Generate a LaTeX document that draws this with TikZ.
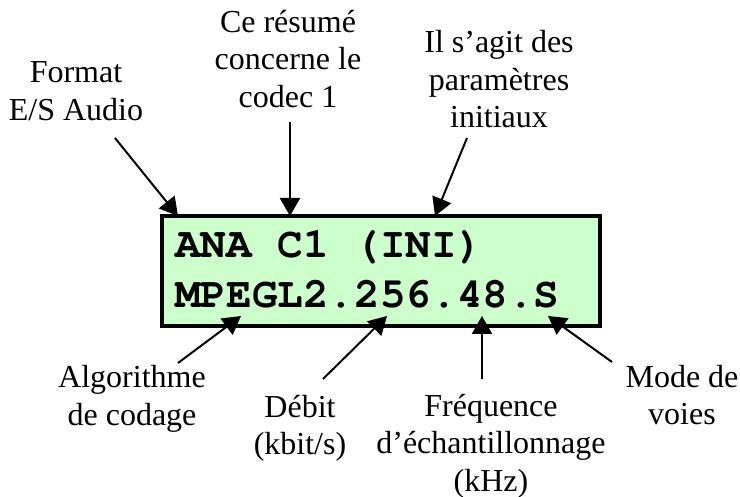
\documentclass[tikz,border=0pt]{standalone}
\usepackage{fontspec}
\setmainfont{Liberation Serif}
\usetikzlibrary{arrows.meta}
\definecolor{lcdgreen}{HTML}{CCFFCC}
\newcommand{\lcdfont}{\fontencoding{T1}\fontfamily{pcr}\fontseries{b}\fontsize{42.7}{50}\selectfont}
\tikzset{
  lbl/.style={inner sep=0pt, align=center, font=\fontsize{32}{37.5}\selectfont},
  lcdtxt/.style={inner sep=0pt, anchor=base west, font=\lcdfont},
  lcdbox/.style={draw=black, line width=3.3pt, fill=lcdgreen},
  arr/.style={line width=2pt, -{Triangle[length=18pt,width=20pt]}}
}
\begin{document}
\begin{tikzpicture}[x=1pt,y=-1pt]
\useasboundingbox (0,0) rectangle (740,497);
% display box
\node[lcdbox, minimum width=438pt, minimum height=110pt, inner sep=0pt] (box) at (381,271) {};
\node[lcdtxt] (l1) at (175,258) {ANA C1 (INI)};
\node[lcdtxt] (l2) at (175,308) {MPEGL2.256.48.S};
% labels
\node[lbl] (fmt) at (76,91) {Format\\E/S Audio};
\node[lbl] (res) at (288,59) {Ce résumé\\concerne le\\codec 1};
\node[lbl] (ini) at (499,79.5) {Il s’agit des\\paramètres\\initiaux};
\node[lbl] (alg) at (132,399) {Algorithme\\de codage};
\node[lbl] (deb) at (300,428.5) {Débit\\(kbit/s)};
\node[lbl] (frq) at (491,446) {Fréquence\\d’échantillonnage\\(kHz)};
\node[lbl] (mod) at (682,395) {Mode de\\voies};
% connector ends
\coordinate (fmtT) at (115,138);
\coordinate (fmtH) at (178,216);
\coordinate (resT) at (290,122);
\coordinate (resH) at (290,216);
\coordinate (iniT) at (467,138);
\coordinate (iniH) at (435,216);
\coordinate (algT) at (178,363);
\coordinate (algH) at (241,316);
\coordinate (debT) at (323,379);
\coordinate (debH) at (387,316);
\coordinate (frqT) at (482,379);
\coordinate (frqH) at (482,316);
\coordinate (modT) at (612,362);
\coordinate (modH) at (548,316);
\draw[arr] (fmtT) -- (fmtH);
\draw[arr] (resT) -- (resH);
\draw[arr] (iniT) -- (iniH);
\draw[arr] (algT) -- (algH);
\draw[arr] (debT) -- (debH);
\draw[arr] (frqT) -- (frqH);
\draw[arr] (modT) -- (modH);
\end{tikzpicture}
\end{document}
